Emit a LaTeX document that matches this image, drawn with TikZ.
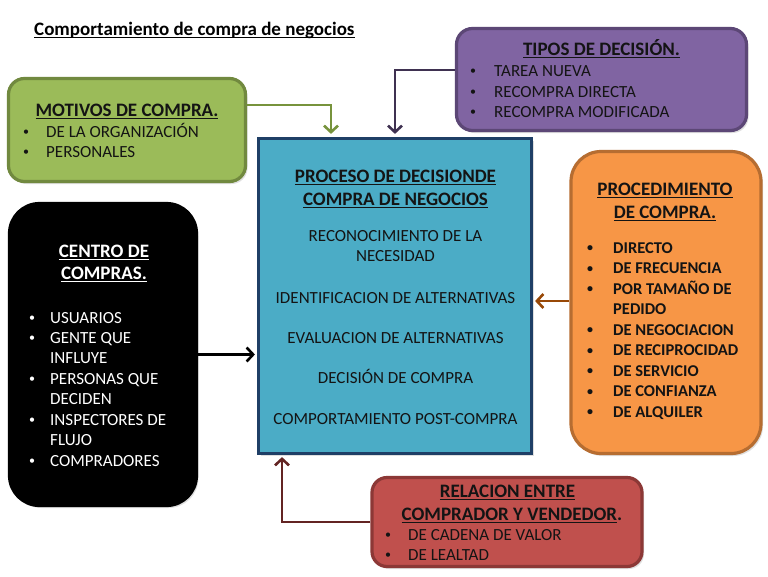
\documentclass[tikz,border=0pt]{standalone}
\usepackage{fontspec}
\setmainfont{Carlito}
\usetikzlibrary{arrows.meta,shadows}
\definecolor{gfill}{HTML}{9BBB59}\definecolor{gline}{HTML}{71893F}\definecolor{garr}{HTML}{77933C}
\definecolor{pfill}{HTML}{8064A2}\definecolor{pline}{HTML}{5C4776}\definecolor{parr}{HTML}{3F3151}
\definecolor{cfill}{HTML}{4BACC6}\definecolor{cline}{HTML}{1F3F66}
\definecolor{ofill}{HTML}{F79646}\definecolor{oline}{HTML}{B66D31}\definecolor{oarr}{HTML}{984807}
\definecolor{rfill}{HTML}{C0504D}\definecolor{rline}{HTML}{8C3836}\definecolor{rarr}{HTML}{632423}
\definecolor{ink}{HTML}{141414}
\newcommand\myul[1]{\setbox0\hbox{#1}\rlap{\rule[-2.8pt]{\wd0}{1.2pt}}\box0}
\newcommand\bul{\raisebox{1.5pt}{\fontsize{12}{12}\selectfont •}}
\begin{document}
\begin{tikzpicture}[x=1pt,y=-1pt,
  panel/.style={draw, line width=3.2pt, inner sep=0pt,
    drop shadow={opacity=0.25, shadow xshift=2pt, shadow yshift=-2.5pt}},
  item/.style={inner sep=0pt, anchor=base west, text=ink, font=\fontsize{17}{20}\selectfont},
  bitem/.style={item, font=\fontsize{16.5}{20}\selectfont\bfseries},
  ctext/.style={inner sep=0pt, anchor=base, text=ink, font=\fontsize{17}{20}\selectfont},
  ttl/.style={inner sep=0pt, anchor=base, text=ink, font=\fontsize{19}{22}\selectfont\bfseries},
  arr/.style={line width=2.6pt, -{Straight Barb[length=6.5pt,width=14pt,line width=2.6pt]}}
]
\useasboundingbox[fill=white] (0,0) rectangle (768,576);

% heading
\node[inner sep=0pt, anchor=base west, font=\fontsize{19}{22}\selectfont\bfseries] (heading) at (34,35) {\myul{Comportamiento de compra de negocios}};

% panels
\node[panel, fill=gfill, draw=gline, rounded corners=16pt, minimum width=237pt, minimum height=103pt] (green) at (127,130) {};
\node[panel, fill=pfill, draw=pline, rounded corners=16pt, minimum width=290pt, minimum height=102pt] (purple) at (601.5,79.5) {};
\node[panel, fill=cfill, draw=cline, minimum width=273pt, minimum height=315pt] (center) at (395,296) {};
\node[panel, fill=ofill, draw=oline, rounded corners=30pt, minimum width=190pt, minimum height=302pt] (orange) at (666,302.5) {};
\node[panel, fill=black, draw=black, rounded corners=30pt, minimum width=187pt, minimum height=302pt] (black) at (103,354.5) {};
\node[panel, fill=rfill, draw=rline, rounded corners=15pt, minimum width=270pt, minimum height=89pt] (red) at (507,522) {};

% connectors
\draw[arr, garr, shorten >=3pt] ([yshift=25pt]green.east) -| ([xshift=-64pt]center.north);
\draw[arr, parr, shorten >=3pt] ([yshift=9.5pt]purple.west) -| (center.north);
\draw[arr, black, shorten >=2pt] (black.east) -- (black.east -| center.west);
\draw[arr, oarr, shorten >=2pt] ([yshift=1.5pt]orange.west) -- ([yshift=1.5pt]orange.west -| center.east);
\draw[arr, rarr, shorten >=2pt] (red.west) -| ([xshift=-113pt]center.south);

% green text
\node[ttl] (gt) at (127,116) {\myul{MOTIVOS DE COMPRA.}};
\node[item] (gb1) at (23,137) {\bul}; \node[item] (gi1) at (46,137) {DE LA ORGANIZACIÓN};
\node[item] (gb2) at (23,157) {\bul}; \node[item] (gi2) at (46,157) {PERSONALES};

% purple text
\node[ttl] (pt) at (601.5,55) {\myul{TIPOS DE DECISIÓN.}};
\node[item] (pb1) at (470,76) {\bul}; \node[item] (pi1) at (494,76) {TAREA NUEVA};
\node[item] (pb2) at (470,97) {\bul}; \node[item] (pi2) at (494,97) {RECOMPRA DIRECTA};
\node[item] (pb3) at (470,117) {\bul}; \node[item] (pi3) at (494,117) {RECOMPRA MODIFICADA};

% center text
\node[ttl] (ct1) at (395.5,182) {\myul{PROCESO DE DECISIONDE}};
\node[ttl] (ct2) at (395.5,205) {\myul{COMPRA DE NEGOCIOS}};
\node[ctext] (c1) at (395.5,241.5) {RECONOCIMIENTO DE LA};
\node[ctext] (c2) at (395.5,261) {NECESIDAD};
\node[ctext] (c3) at (395.5,303) {IDENTIFICACION DE ALTERNATIVAS};
\node[ctext] (c4) at (395.5,343) {EVALUACION DE ALTERNATIVAS};
\node[ctext] (c5) at (395.5,383) {DECISIÓN DE COMPRA};
\node[ctext] (c6) at (395.5,424.5) {COMPORTAMIENTO POST-COMPRA};

% orange text
\node[ttl] (ot1) at (665,195) {\myul{PROCEDIMIENTO}};
\node[ttl] (ot2) at (665,218) {\myul{DE COMPRA.}};
\foreach \t [count=\i] in {DIRECTO,DE FRECUENCIA,POR TAMAÑO DE,PEDIDO,DE NEGOCIACION,DE RECIPROCIDAD,DE SERVICIO,DE CONFIANZA,DE ALQUILER}{
  \pgfmathsetmacro\yy{253+20.5*(\i-1)}
  \ifnum\i=4\relax\else\node[bitem] (ob\i) at (587,\yy) {\bul};\fi
  \node[bitem] (oi\i) at (613,\yy) {\t};
}

% black text
\node[ttl, text=white] (kt1) at (104,257) {\myul{CENTRO DE}};
\node[ttl, text=white] (kt2) at (104,279) {\myul{COMPRAS.}};
\foreach \t [count=\i] in {USUARIOS,GENTE QUE,INFLUYE,PERSONAS QUE,DECIDEN,INSPECTORES DE,FLUJO,COMPRADORES}{
  \pgfmathsetmacro\yy{323+20.43*(\i-1)}
  \node[item, text=white] (ki\i) at (50,\yy) {\t};
}
\foreach \i in {1,2,4,6,8}{
  \node[item, text=white, anchor=base west] (kb\i) at (ki\i.base west) [xshift=-21pt] {\bul};
}

% red text
\node[ttl] (rt1) at (507.5,497) {\myul{RELACION ENTRE}};
\node[ttl] (rt2) at (512,520) {\myul{COMPRADOR Y VENDEDOR}.};
\node[item] (rb1) at (385,540) {\bul}; \node[item] (ri1) at (408,540) {DE CADENA DE VALOR};
\node[item] (rb2) at (385,560) {\bul}; \node[item] (ri2) at (408,560) {DE LEALTAD};
\end{tikzpicture}
\end{document}
